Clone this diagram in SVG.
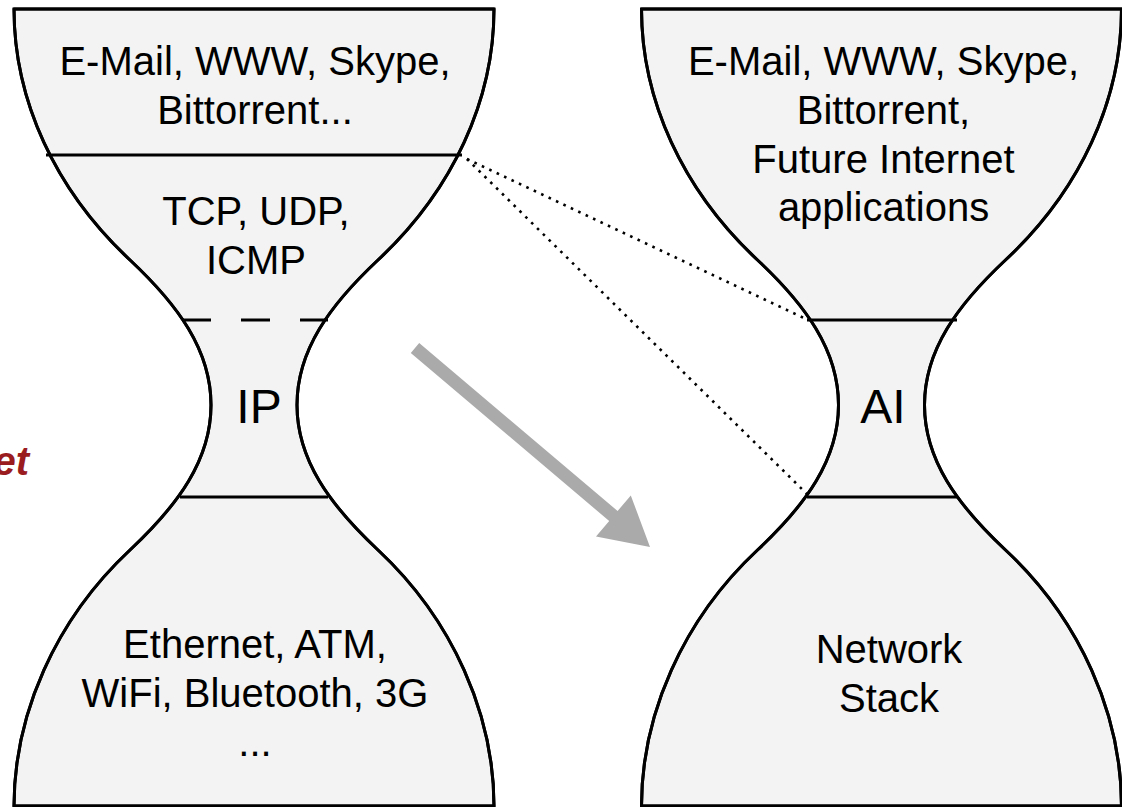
<svg xmlns="http://www.w3.org/2000/svg" xmlns:xlink="http://www.w3.org/1999/xlink" width="1122" height="807" viewBox="0 0 1122 807">
<style>
.body{fill:#f3f3f3;stroke:#000;stroke-width:3;stroke-linejoin:round}
.div{stroke:#000;stroke-width:3;fill:none}
.dash{stroke:#000;stroke-width:3;fill:none;stroke-dasharray:29 30}
.t{font-family:"Liberation Sans",Arial,sans-serif;font-size:40px;fill:#000;text-anchor:middle}
.big{font-size:48px}
.dot{stroke:#000;stroke-width:2.6;fill:none;stroke-dasharray:2.6 5.6}
.red{font-family:"Liberation Sans",Arial,sans-serif;font-size:40px;font-weight:bold;font-style:italic;fill:#9b1c20;text-anchor:end}
</style>
<defs>
<path id="hg" d="M 14 9 L 494 9 C 494 100 453 190 378 260 C 330 305 297 350 297 405 C 297 460 330 505 378 550 C 453 620 494 715 494 806 L 14 806 C 14 715 55 620 130 550 C 178 505 211 460 211 405 C 211 350 178 305 130 260 C 55 190 14 100 14 9 Z"/>
</defs>
<rect width="1122" height="807" fill="#fff"/>
<text class="red" x="29" y="475">et</text>
<g id="hourglass-left">
<use href="#hg" class="body"/>
<line class="div" x1="46" y1="155" x2="462" y2="155"/>
<line class="dash" x1="182" y1="320" x2="328" y2="320"/>
<line class="div" x1="180" y1="497" x2="328" y2="497"/>
<use href="#hg" style="fill:none;stroke:#000;stroke-width:3"/>
<g id="left-app"><text class="t" x="255" y="75">E-Mail, WWW, Skype,</text><text class="t" x="255" y="124">Bittorrent...</text></g>
<g id="left-transport"><text class="t" x="256" y="225">TCP, UDP,</text><text class="t" x="256" y="274">ICMP</text></g>
<g id="left-ip"><text class="t big" x="259" y="423">IP</text></g>
<g id="left-link"><text class="t" x="255" y="658">Ethernet, ATM,</text><text class="t" x="255" y="707">WiFi, Bluetooth, 3G</text><text class="t" x="255" y="756">...</text></g>
</g>
<g id="hourglass-right">
<use href="#hg" class="body" x="627.5"/>
<line class="div" x1="807" y1="320" x2="957" y2="320"/>
<line class="div" x1="807" y1="497" x2="957" y2="497"/>
<use href="#hg" x="627.5" style="fill:none;stroke:#000;stroke-width:3"/>
<g id="right-app"><text class="t" x="883.5" y="75">E-Mail, WWW, Skype,</text><text class="t" x="883.5" y="124">Bittorrent,</text><text class="t" x="883.5" y="173">Future Internet</text><text class="t" x="883.5" y="221">applications</text></g>
<g id="right-ai"><text class="t big" x="883" y="423">AI</text></g>
<g id="right-stack"><text class="t" x="889" y="663">Network</text><text class="t" x="889" y="712">Stack</text></g>
</g>
<g id="connectors">
<line class="dot" x1="467" y1="159" x2="808" y2="320"/>
<line class="dot" x1="467" y1="159" x2="808" y2="495"/>
<polygon fill="#aaaaaa" points="410.8,353 419.2,343 617.6,511 630.8,495.4 650,547 596,536.6 609.2,521"/>
</g>
</svg>
